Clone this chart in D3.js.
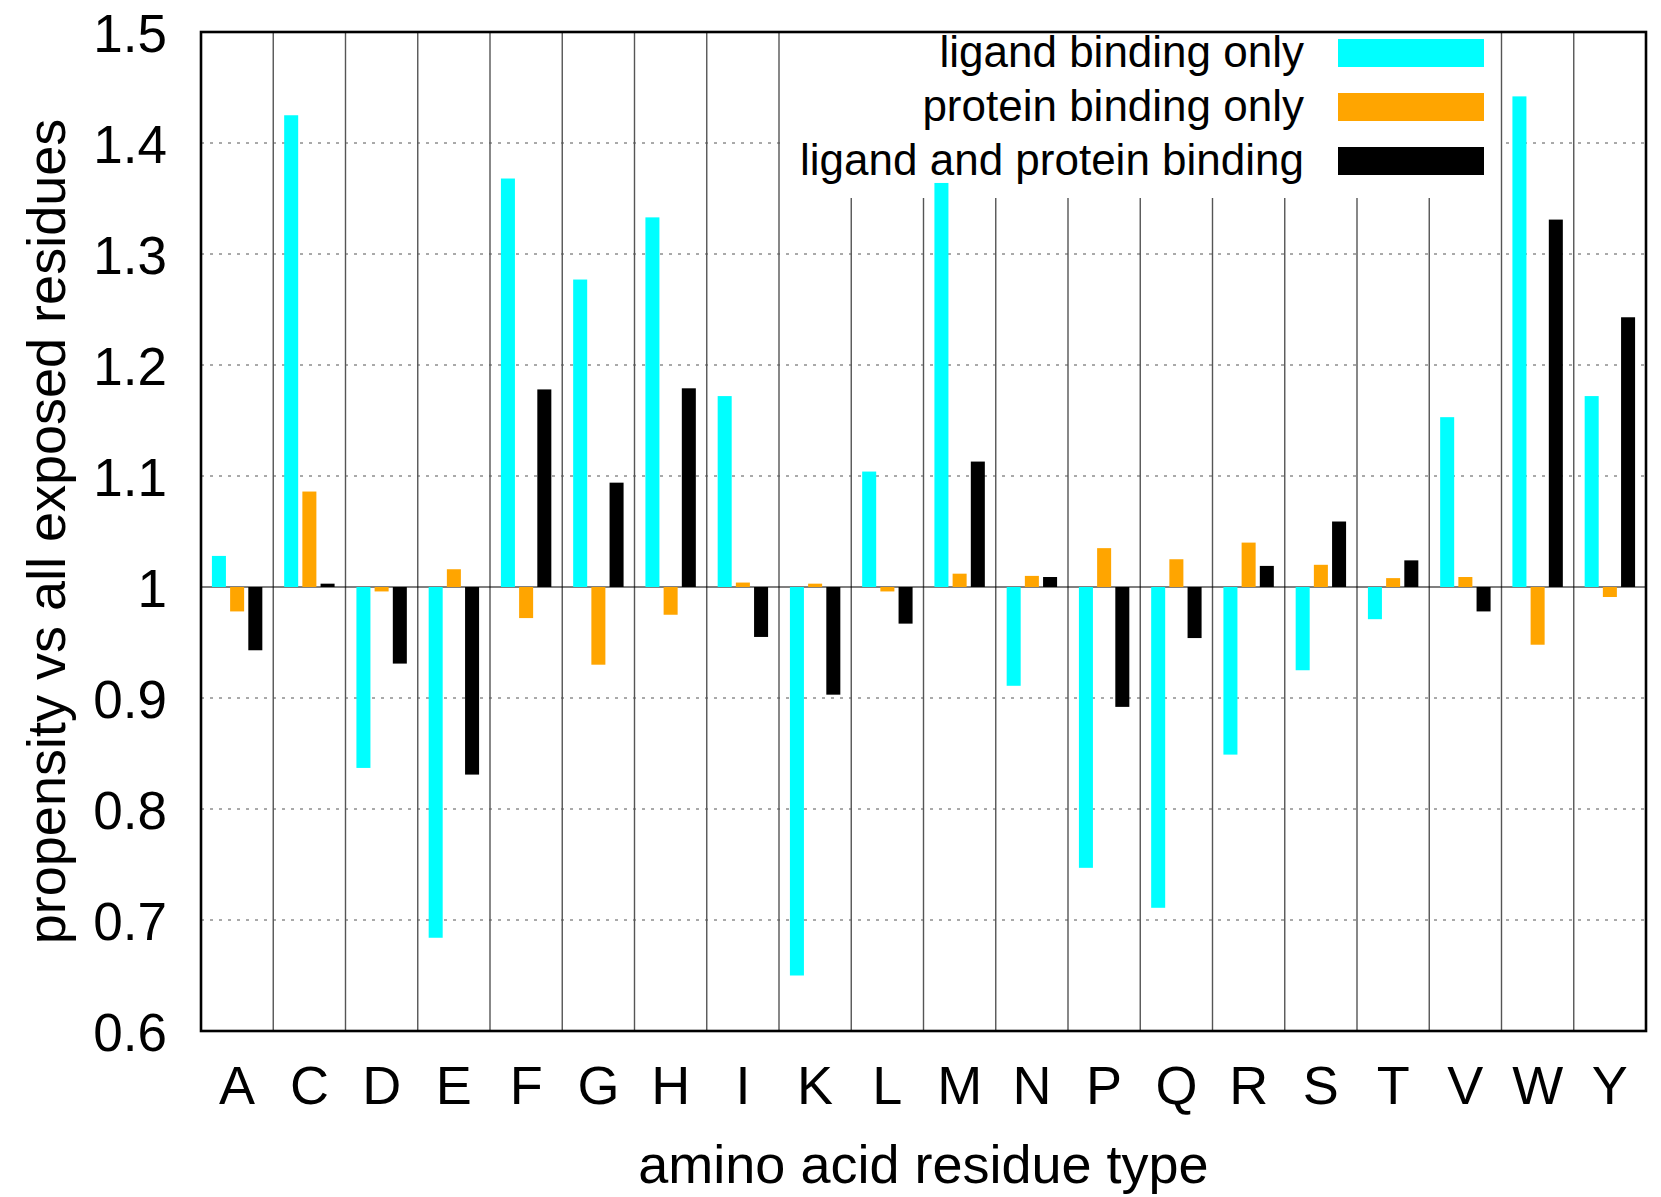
<!DOCTYPE html>
<html>
<head>
<meta charset="utf-8">
<script src="https://cdn.jsdelivr.net/npm/d3@7"></script>
<style>
  body { margin: 0; background: #fff; }
  svg text { font-family: "Liberation Sans", Arial, Helvetica, sans-serif; fill: #000; }
</style>
</head>
<body>
<svg id="chart" width="1661" height="1197"></svg>
<script>
// residue types and propensities
const residues = ["A","C","D","E","F","G","H","I","K","L","M","N","P","Q","R","S","T","V","W","Y"];
const seriesNames = ["ligand binding only", "protein binding only", "ligand and protein binding"];
const seriesColors = ["#00ffff", "#ffa500", "#000000"];

const ligandOnly  = [1.028, 1.425, 0.837, 0.684, 1.368, 1.277, 1.333, 1.172, 0.650, 1.104,
                     1.364, 0.911, 0.747, 0.711, 0.849, 0.925, 0.971, 1.153, 1.442, 1.172];
const proteinOnly = [0.978, 1.086, 0.996, 1.016, 0.972, 0.930, 0.975, 1.004, 1.003, 0.996,
                     1.012, 1.010, 1.035, 1.025, 1.040, 1.020, 1.008, 1.009, 0.948, 0.991];
const bothBinding = [0.943, 1.003, 0.931, 0.831, 1.178, 1.094, 1.179, 0.955, 0.903, 0.967,
                     1.113, 1.009, 0.892, 0.954, 1.019, 1.059, 1.024, 0.978, 1.331, 1.243];

const yTicks = [0.6, 0.7, 0.8, 0.9, 1.0, 1.1, 1.2, 1.3, 1.4, 1.5];
const baseline = 1.0;

const allSeries = [ligandOnly, proteinOnly, bothBinding];

// Plot frame
const margin = { left: 201, right: 1646, top: 32, bottom: 1031 };
const svg = d3.select("#chart");

const x0 = d3.scaleBand()
    .domain(residues)
    .range([margin.left, margin.right])
    .padding(0);

const half = 27.3;
const x1 = d3.scaleBand()
    .domain(d3.range(seriesNames.length))
    .range([x0.bandwidth() / 2 - half, x0.bandwidth() / 2 + half])
    .paddingInner(0.23)
    .paddingOuter(0.115);

const y = d3.scaleLinear()
    .domain([0.6, 1.5])
    .range([margin.bottom, margin.top]);

// Dotted grid lines
svg.append("g")
    .selectAll("line")
    .data(yTicks.filter(d => d > 0.6 && d < 1.5 && d !== baseline))
    .join("line")
    .attr("x1", margin.left)
    .attr("x2", margin.right)
    .attr("y1", d => y(d))
    .attr("y2", d => y(d))
    .attr("stroke", "#555")
    .attr("stroke-width", 1)
    .attr("stroke-dasharray", "3,6");

// Category separators
svg.append("g")
    .selectAll("line")
    .data(residues.slice(1))
    .join("line")
    .attr("x1", d => x0(d))
    .attr("x2", d => x0(d))
    .attr("y1", margin.top)
    .attr("y2", margin.bottom)
    .attr("stroke", "#555")
    .attr("stroke-width", 1.4);

// Baseline at 1
svg.append("line")
    .attr("x1", margin.left)
    .attr("x2", margin.right)
    .attr("y1", y(baseline))
    .attr("y2", y(baseline))
    .attr("stroke", "#000")
    .attr("stroke-width", 1.2);

// Legend background hides grid behind it
svg.append("rect")
    .attr("x", 780)
    .attr("y", margin.top + 1)
    .attr("width", 720)
    .attr("height", 165)
    .attr("fill", "#fff");

// Bars
const groups = svg.append("g")
    .selectAll("g")
    .data(residues)
    .join("g")
    .attr("transform", d => `translate(${x0(d)},0)`);

groups.selectAll("rect")
    .data((d, i) => allSeries.map((s, k) => ({ k, v: s[i] })))
    .join("rect")
    .attr("x", d => x1(d.k))
    .attr("width", x1.bandwidth())
    .attr("y", d => y(Math.max(d.v, baseline)))
    .attr("height", d => Math.abs(y(d.v) - y(baseline)))
    .attr("fill", d => seriesColors[d.k]);

// Y axis
svg.append("g")
    .attr("transform", `translate(${margin.left},0)`)
    .call(d3.axisLeft(y)
        .tickValues(yTicks)
        .tickSize(0)
        .tickPadding(34)
        .tickFormat(d3.format("~g")))
    .call(g => g.select(".domain").remove())
    .selectAll("text")
    .attr("font-size", 53)
    .attr("dy", "0.36em");

// X axis
svg.append("g")
    .attr("transform", `translate(0,${margin.bottom})`)
    .call(d3.axisBottom(x0).tickSize(0).tickPadding(35))
    .call(g => g.select(".domain").remove())
    .selectAll("text")
    .attr("font-size", 54);

svg.selectAll(".tick text").attr("fill", "#000").style("font-family", "'Liberation Sans', Arial, sans-serif");

// Axis titles
svg.append("text")
    .attr("x", (margin.left + margin.right) / 2)
    .attr("y", 1183)
    .attr("text-anchor", "middle")
    .attr("font-size", 54)
    .text("amino acid residue type");

svg.append("text")
    .attr("transform", `translate(65,${(margin.top + margin.bottom) / 2}) rotate(-90)`)
    .attr("text-anchor", "middle")
    .attr("font-size", 54)
    .text("propensity vs all exposed residues");

// Legend
const legend = svg.append("g")
    .selectAll("g")
    .data(seriesNames)
    .join("g")
    .attr("transform", (d, i) => `translate(0,${53 + i * 54})`);

legend.append("text")
    .attr("x", 1304)
    .attr("y", 14)
    .attr("text-anchor", "end")
    .attr("font-size", 44)
    .text(d => d);

legend.append("rect")
    .attr("x", 1338)
    .attr("y", -14)
    .attr("width", 146)
    .attr("height", 28)
    .attr("fill", (d, i) => seriesColors[i]);

// Frame
svg.append("rect")
    .attr("x", margin.left)
    .attr("y", margin.top)
    .attr("width", margin.right - margin.left)
    .attr("height", margin.bottom - margin.top)
    .attr("fill", "none")
    .attr("stroke", "#000")
    .attr("stroke-width", 2.6);
</script>
</body>
</html>
